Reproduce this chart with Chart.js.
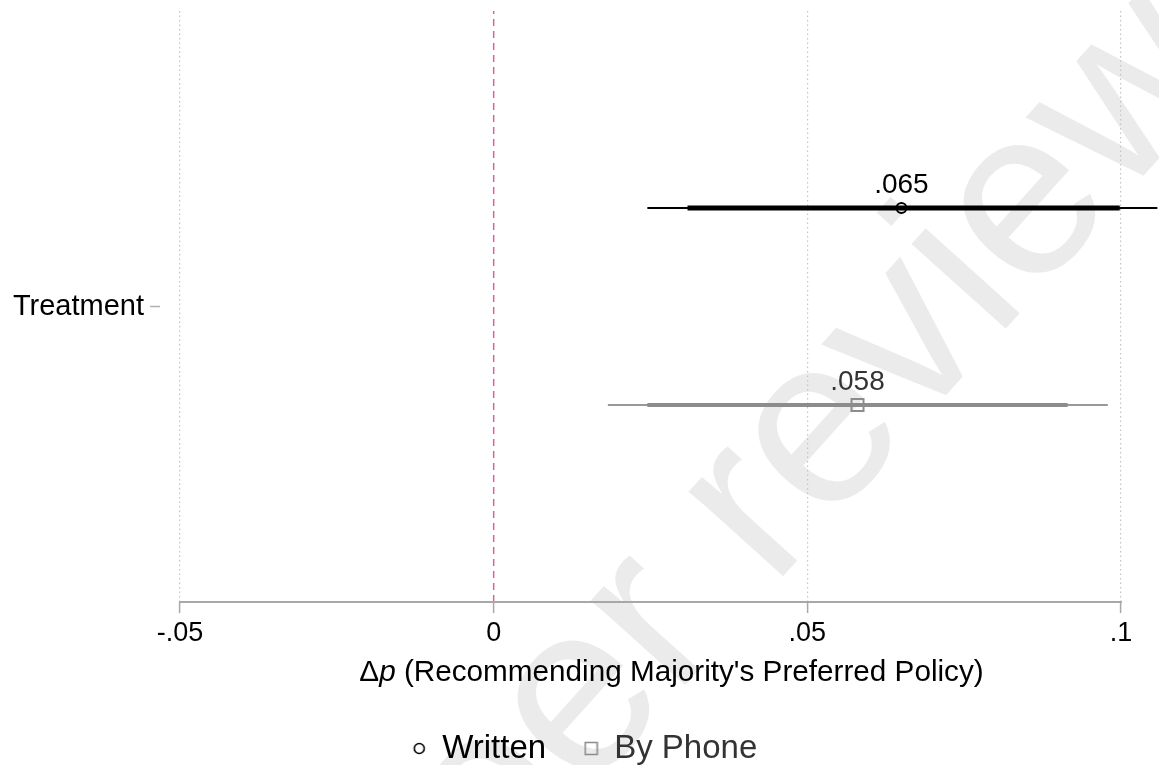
<!DOCTYPE html>
<html>
<head>
<meta charset="utf-8">
<script src="https://cdn.jsdelivr.net/npm/chart.js@4.4.1/dist/chart.umd.min.js"></script>
<style>
    html, body { margin: 0; padding: 0; background: #fff; }
    #wrap { width: 1159px; height: 765px; }
</style>
</head>
<body>
<div id="wrap"><canvas id="chart"></canvas></div>
<script>
// ===== DATA =====
const groups = ['Written', 'By Phone'];
const estimates = [0.065, 0.058];
const estLabels = ['.065', '.058'];
const ciWideLow = [0.0245, 0.0182];
const ciWideHigh = [0.1058, 0.0979];
const ciNarrowLow = [0.0309, 0.0245];
const ciNarrowHigh = [0.0998, 0.0915];
const yCategories = ['Treatment'];
const xTickValues = [-0.05, 0, 0.05, 0.1];
const xTickLabels = ['-.05', '0', '.05', '.1'];
const xTitle = ['Δ', 'p', " (Recommending Majority's Preferred Policy)"];
const watermark = 'Not peer reviewed';

// ===== STYLE =====
const FONT = '"Liberation Sans", Arial, Helvetica, sans-serif';
const groupColors = ['#000000', '#8c8c8c'];
const thinColors = ['#000000', '#999999'];
const labelColors = ['#000000', '#333333'];
const markerStyles = ['circle', 'rect'];
const markerRadius = [5, 8.5];
const yOffsets = groups.map((g, i) => 0.5 - i);
const Y_MIN = -1.5, Y_MAX = 1.5;
const PLOT_BOTTOM = 602;

// small legend symbols
function legendSymbol(kind, color) {
    const c = document.createElement('canvas');
    c.width = 15; c.height = 15;
    const g = c.getContext('2d');
    g.strokeStyle = color; g.lineWidth = 1.6;
    g.beginPath();
    if (kind === 'circle') g.arc(7.5, 7.5, 5, 0, Math.PI * 2);
    else g.rect(1.5, 1.5, 12, 12);
    g.stroke();
    return c;
}
const legendSymbols = groups.map((g, i) => legendSymbol(markerStyles[i], groupColors[i]));

const datasets = [];
groups.forEach((g, i) => {
    datasets.push({
        label: g, data: [{ x: estimates[i], y: yOffsets[i] }],
        pointStyle: markerStyles[i], pointRadius: markerRadius[i], pointBorderWidth: 2,
        borderColor: groupColors[i], backgroundColor: 'rgba(0,0,0,0)',
        pointBorderColor: groupColors[i], pointBackgroundColor: 'rgba(0,0,0,0)',
        showLine: false, order: 0
    });
    datasets.push({
        label: '', data: [{ x: ciNarrowLow[i], y: yOffsets[i] }, { x: ciNarrowHigh[i], y: yOffsets[i] }],
        showLine: true, borderColor: groupColors[i], borderWidth: i === 0 ? 5 : 4,
        pointRadius: 0, borderCapStyle: 'butt', order: 1
    });
    datasets.push({
        label: '', data: [{ x: ciWideLow[i], y: yOffsets[i] }, { x: ciWideHigh[i], y: yOffsets[i] }],
        showLine: true, borderColor: thinColors[i], borderWidth: 2,
        pointRadius: 0, borderCapStyle: 'butt', order: 2
    });
});
// reference line at zero
datasets.push({
    label: '', data: [{ x: 0, y: Y_MIN }, { x: 0, y: Y_MAX }],
    showLine: true, borderColor: '#d4649f', borderWidth: 1.5, borderDash: [7, 5],
    pointRadius: 0, order: 3
});

const extras = {
    id: 'extras',
    beforeDraw(chart) {
        const ctx = chart.ctx;
        ctx.save();
        ctx.fillStyle = 'rgba(0,0,0,0.08)';
        ctx.font = '240px ' + FONT;
        ctx.translate(406, 995);
        ctx.rotate(-48 * Math.PI / 180);
        ctx.textBaseline = 'alphabetic';
        ctx.fillText(watermark, -ctx.measureText('Not ').width, 0);
        ctx.restore();
    },
    afterDraw(chart) {
        const ctx = chart.ctx, x = chart.scales.x, y = chart.scales.y, area = chart.chartArea;
        ctx.save();
        // x axis line between outer ticks
        ctx.strokeStyle = '#a8a8a8';
        ctx.lineWidth = 2;
        ctx.beginPath();
        ctx.moveTo(x.getPixelForValue(xTickValues[0]) - 1, area.bottom);
        ctx.lineTo(x.getPixelForValue(xTickValues[xTickValues.length - 1]) + 1, area.bottom);
        ctx.stroke();
        // estimate labels
        ctx.font = '28px ' + FONT;
        ctx.textAlign = 'center';
        ctx.textBaseline = 'middle';
        groups.forEach((g, i) => {
            ctx.fillStyle = labelColors[i];
            ctx.fillText(estLabels[i], x.getPixelForValue(estimates[i]), y.getPixelForValue(yOffsets[i]) - 23);
        });
        // axis title with italic p
        const fonts = ['29.7px ' + FONT, 'italic 29.7px ' + FONT, '29.7px ' + FONT];
        let total = 0;
        const widths = xTitle.map((t, k) => { ctx.font = fonts[k]; const w = ctx.measureText(t).width; total += w; return w; });
        let cx = (area.left + area.right) / 2 + 12 - total / 2;
        ctx.textAlign = 'left';
        ctx.fillStyle = '#000';
        xTitle.forEach((t, k) => {
            ctx.font = fonts[k];
            ctx.fillText(t, cx, area.bottom + 71);
            cx += widths[k];
        });
        ctx.restore();
    }
};

new Chart(document.getElementById('chart'), {
    type: 'scatter',
    data: { datasets },
    options: {
        responsive: true, maintainAspectRatio: false, animation: false,
        layout: { autoPadding: false, padding: { top: 11, right: 0, left: 11, bottom: -10 } },
        scales: {
            x: {
                type: 'linear', min: -0.05319, max: 0.10606,
                afterBuildTicks: s => { s.ticks = xTickValues.map(v => ({ value: v })); },
                afterFit: s => {
                    const lg = s.chart.legend;
                    s.height = s.chart.height + 10 - PLOT_BOTTOM - (lg ? lg.height : 0);
                    s.paddingLeft = 0; s.paddingRight = 0;
                },
                ticks: {
                    callback: v => xTickLabels[xTickValues.indexOf(v)],
                    font: { family: FONT, size: 27 }, color: '#000', padding: 4, maxRotation: 0
                },
                grid: {
                    color: c => (c.tick && c.tick.value === 0) ? 'rgba(0,0,0,0)' : '#c4c4c4',
                    lineWidth: 1.2, tickColor: '#a8a8a8', tickWidth: 1.5, tickLength: 11
                },
                border: { display: false, dash: [1.5, 3] }
            },
            y: {
                type: 'linear', min: Y_MIN, max: Y_MAX,
                afterBuildTicks: s => { s.ticks = yCategories.map((c, i) => ({ value: i })); },
                afterFit: s => { s.width = 149; s.paddingTop = 0; s.paddingBottom = 0; },
                ticks: {
                    callback: (v) => yCategories[v],
                    font: { family: FONT, size: 29 }, color: '#000', padding: 6
                },
                grid: { drawOnChartArea: false, drawTicks: true, tickLength: 10, tickColor: '#b0b0b0', tickWidth: 1.5 },
                border: { display: false }
            }
        },
        plugins: {
            tooltip: { enabled: false },
            legend: {
                position: 'bottom',
                labels: {
                    usePointStyle: true, boxWidth: 13, boxHeight: 13, padding: 38.5,
                    font: { family: FONT, size: 33 }, color: '#000',
                    generateLabels: chart => Chart.defaults.plugins.legend.labels.generateLabels(chart)
                        .filter(it => it.text !== '')
                        .map(it => {
                            const k = groups.indexOf(it.text);
                            it.fontColor = labelColors[k];
                            it.pointStyle = legendSymbols[k];
                            return it;
                        })
                }
            }
        }
    },
    plugins: [extras]
});
</script>
</body>
</html>
